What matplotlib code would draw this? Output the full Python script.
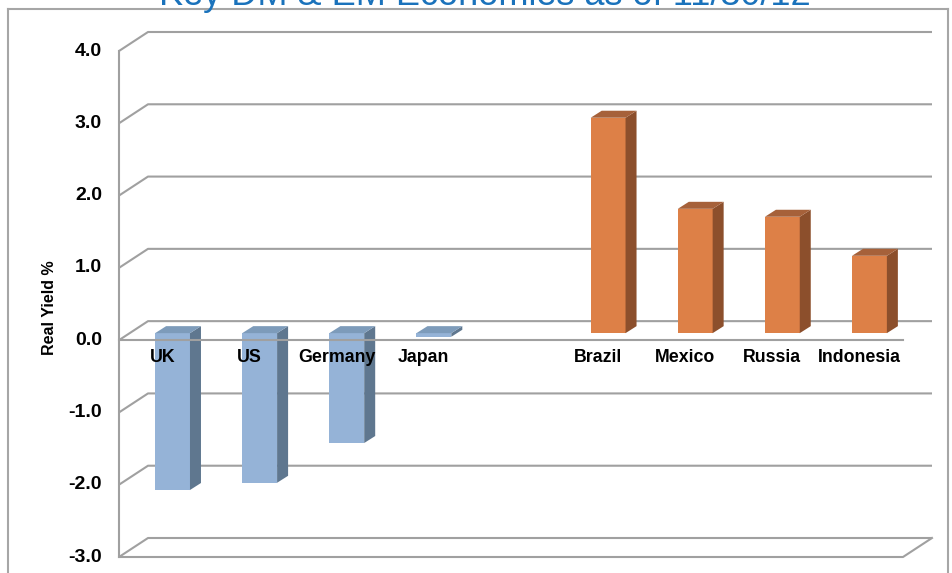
import matplotlib
matplotlib.use('Agg')
import matplotlib.pyplot as plt
from matplotlib.patches import Polygon
from matplotlib.lines import Line2D

plt.rcParams['font.family'] = ['Liberation Sans', 'DejaVu Sans']

# ---------------- data ----------------
title = "Key DM & EM Economies as of 11/30/12"
categories = ["UK", "US", "Germany", "Japan", "", "Brazil", "Mexico", "Russia", "Indonesia"]
real_yield = [-2.17, -2.07, -1.52, -0.05, None, 2.98, 1.72, 1.61, 1.07]
groups = ["DM", "DM", "DM", "DM", None, "EM", "EM", "EM", "EM"]
y_ticks = [-3, -2, -1, 0, 1, 2, 3, 4]
y_label = "Real Yield %"

# ---------------- style ----------------
colors = {
    "DM": {"front": "#95B3D7", "side": "#5F778F", "top": "#7D9BBA"},
    "EM": {"front": "#DD8047", "side": "#8C4F2C", "top": "#A6613A"},
}
grid_color = "#A0A0A0"
frame_color = "#A6A6A6"
title_color = "#1A72BB"

W, H = 952, 573
fig = plt.figure(figsize=(W / 100, H / 100), dpi=100)
L, R, T, B = 119, 903, 51, 557          # front plane in pixels
ax = fig.add_axes([L / W, 1 - B / H, (R - L) / W, (B - T) / H])
n = len(categories)
ax.set_xlim(-0.5, n - 0.5)
ax.set_ylim(min(y_ticks), max(y_ticks))
ax.axis('off')

sx = n / (R - L)                           # data units per pixel
sy = (max(y_ticks) - min(y_ticks)) / (B - T)
DX, DY = 29 * sx, 19 * sy                  # wall depth
BX0, BY0 = 10 * sx, 7 * sy                 # bar front offset
BDX, BDY = 11 * sx, 7 * sy                 # bar depth
bw = 0.4
x0, x1 = -0.5, n - 0.5
lw = 1.5

# back wall grid lines with left-wall slants
for v in y_ticks:
    ax.plot([x0, x0 + DX, x1 + DX], [v, v + DY, v + DY], color=grid_color, lw=lw,
            clip_on=False, zorder=1, solid_capstyle='butt')
# left wall front edge
ax.plot([x0, x0], [min(y_ticks), max(y_ticks)], color=grid_color, lw=lw, clip_on=False, zorder=1)
# bottom floor front edge
ymin = min(y_ticks)
ax.plot([x0, x1, x1 + DX], [ymin, ymin, ymin + DY], color=grid_color, lw=lw, clip_on=False, zorder=1)

# bars
for i, (v, g) in enumerate(zip(real_yield, groups)):
    if v is None:
        continue
    c = colors[g]
    top = max(v, 0)
    bot = min(v, 0)
    xl = i - bw / 2 + BX0
    xr = i + bw / 2 + BX0
    ax.bar(i + BX0, v, width=bw, bottom=BY0, color=c["front"], zorder=3, linewidth=0)
    side = Polygon([(xr, bot + BY0), (xr, top + BY0), (xr + BDX, top + BY0 + BDY),
                    (xr + BDX, bot + BY0 + BDY)], closed=True, facecolor=c["side"],
                   edgecolor='none', zorder=3, clip_on=False)
    ax.add_patch(side)
    tp = Polygon([(xl, top + BY0), (xr, top + BY0), (xr + BDX, top + BY0 + BDY),
                  (xl + BDX, top + BY0 + BDY)], closed=True, facecolor=c["top"],
                 edgecolor='none', zorder=3, clip_on=False)
    ax.add_patch(tp)

# zero line (front) over bars
ax.plot([x0, x1], [0, 0], color=grid_color, lw=lw, clip_on=False, zorder=5)

# category labels
for i, cat in enumerate(categories):
    if cat:
        ax.text(i, -17 * sy, cat, ha='center', va='center', fontsize=12.8,
                fontweight='bold', color='black', zorder=6)

# y tick labels
for v in y_ticks:
    ax.text(x0 - 17 * sx, v, f"{v:.1f}", ha='right', va='center', fontsize=14,
            fontweight='bold', color='black')

fig.text(50 / W, 1 - 308 / H, y_label, rotation=90, ha='center', va='center',
         fontsize=11.5, fontweight='bold', color='black')

# outer frame
fig.add_artist(Line2D([8 / W, 8 / W], [0, 1 - 9 / H], transform=fig.transFigure, color=frame_color, lw=1.5))
fig.add_artist(Line2D([948 / W, 948 / W], [0, 1 - 9 / H], transform=fig.transFigure, color=frame_color, lw=1.5))
fig.add_artist(Line2D([8 / W, 948 / W], [1 - 9 / H, 1 - 9 / H], transform=fig.transFigure, color=frame_color, lw=1.5))

fig.text(485 / W, 1 - 5 / H, title, ha='center', va='baseline', fontsize=26, color=title_color)

fig.savefig('out.png', dpi=100)
